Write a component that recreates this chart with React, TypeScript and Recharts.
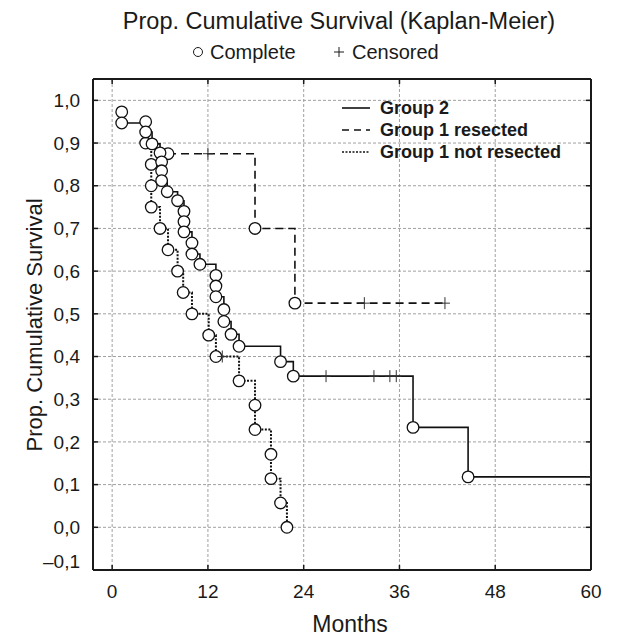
import { LineChart, Line, XAxis, YAxis, CartesianGrid } from 'recharts';

// axis ticks
const xTicks = [0, 12, 24, 36, 48, 60];
const yTicks = [-0.1, 0, 0.1, 0.2, 0.3, 0.4, 0.5, 0.6, 0.7, 0.8, 0.9, 1.0];

// Group 2 (solid)
const g2Months = [1.2, 1.2, 4.2, 5.0, 6.0, 6.2, 6.2, 6.2, 6.9, 8.2, 9.0, 9.0, 9.0, 10.0, 10.0, 11.0, 13.0, 13.0, 13.0, 14.0, 14.0, 14.9, 15.9, 21.1, 22.7, 26.8, 32.8, 34.8, 35.6, 37.7, 44.6, 60];
const g2Survival = [0.973, 0.947, 0.926, 0.898, 0.877, 0.856, 0.835, 0.812, 0.786, 0.765, 0.74, 0.716, 0.692, 0.666, 0.64, 0.616, 0.59, 0.565, 0.54, 0.51, 0.482, 0.452, 0.424, 0.388, 0.354, 0.354, 0.354, 0.354, 0.354, 0.234, 0.118, 0.118];
const g2Censored = [0, 0, 0, 0, 0, 0, 0, 0, 0, 0, 0, 0, 0, 0, 0, 0, 0, 0, 0, 0, 0, 0, 0, 0, 0, 1, 1, 1, 1, 0, 0, 1];

// Group 1 resected (dashed)
const g1rMonths = [7.0, 12.0, 17.9, 22.9, 31.6, 41.7];
const g1rSurvival = [0.875, 0.875, 0.7, 0.525, 0.525, 0.525];
const g1rCensored = [0, 1, 0, 0, 1, 1];

// Group 1 not resected (dotted)
const g1nMonths = [4.2, 4.2, 4.9, 4.9, 4.9, 6.0, 7.0, 8.2, 8.9, 10.0, 12.1, 13.0, 13.8, 15.9, 17.9, 17.9, 19.9, 19.9, 21.1, 21.9];
const g1nSurvival = [0.95, 0.9, 0.85, 0.8, 0.75, 0.7, 0.65, 0.6, 0.55, 0.5, 0.45, 0.4, 0.4, 0.343, 0.286, 0.229, 0.171, 0.114, 0.057, 0];
const g1nCensored = [0, 0, 0, 0, 0, 0, 0, 0, 0, 0, 0, 0, 1, 0, 0, 0, 0, 0, 0, 0];

const legendLabels = ['Group 2', 'Group 1 resected', 'Group 1 not resected'];

const toRows = (m: number[], s: number[], c: number[]) =>
  m.map((t, i) => ({ t, s: s[i], c: c[i] }));

const group2 = toRows(g2Months, g2Survival, g2Censored);
const group1r = toRows(g1rMonths, g1rSurvival, g1rCensored);
const group1n = toRows(g1nMonths, g1nSurvival, g1nCensored);

const FONT = '"Liberation Sans", Arial, Helvetica, sans-serif';
const INK = '#1a1a1a';

const fmt = (v: number) => {
  const s = Math.abs(v).toFixed(1).replace('.', ',');
  return v < 0 ? '\u2013' + s : s;
};

const KmDot = (props: any) => {
  const { cx, cy, payload, index } = props;
  if (cx == null || cy == null) return <g key={index} />;
  if (payload.c) {
    return (
      <g key={index}>
        <line x1={cx - 5} x2={cx + 5} y1={cy} y2={cy} stroke="#333" strokeWidth={1} />
        <line x1={cx} x2={cx} y1={cy - 6} y2={cy + 6} stroke="#333" strokeWidth={1} />
      </g>
    );
  }
  return <circle key={index} cx={cx} cy={cy} r={5.8} fill="#fff" stroke="#111" strokeWidth={1.3} />;
};

const YTick = (props: any) => {
  const { x, y, payload } = props;
  return (
    <text x={x} y={y + (payload.value < 0 ? -9 : 0)} dy="0.355em" textAnchor="end"
      fill={INK} fontSize={19} fontFamily={FONT}>
      {fmt(payload.value)}
    </text>
  );
};

const EmptyTick = () => <g />;

export default function App() {
  const legendStyles = [
    { dash: undefined, w: 1.6 },
    { dash: '7 5', w: 1.6 },
    { dash: '2 1.5', w: 1.4 },
  ];
  return (
    <div style={{ position: 'absolute', left: 0, top: 0, width: 617, height: 638, background: '#fff' }}>
      <LineChart width={617} height={638} margin={{ top: 78, right: 25, bottom: 38, left: 43 }}>
        <CartesianGrid stroke="#a0a0a0" strokeDasharray="3 2" strokeWidth={1} />
        <XAxis dataKey="t" type="number" domain={[-2.4, 60]} ticks={xTicks} allowDataOverflow
          height={30} axisLine={{ stroke: INK, strokeWidth: 2 }} tickLine={{ stroke: INK, strokeWidth: 1.5 }}
          tickSize={-5} tickMargin={20}
          tick={{ fill: INK, fontSize: 19, fontFamily: FONT }} />
        <XAxis xAxisId="top" orientation="top" dataKey="t" type="number" domain={[-2.4, 60]} ticks={xTicks}
          allowDataOverflow height={1} axisLine={{ stroke: INK, strokeWidth: 2 }}
          tickLine={{ stroke: INK, strokeWidth: 1.5 }} tickSize={-5} tick={EmptyTick} />
        <YAxis type="number" domain={[-0.1, 1.05]} ticks={yTicks} allowDataOverflow width={50}
          axisLine={{ stroke: INK, strokeWidth: 2 }} tickLine={{ stroke: INK, strokeWidth: 1.5 }}
          tickSize={-5} tickMargin={18} tick={YTick} />
        <YAxis yAxisId="right" orientation="right" type="number" domain={[-0.1, 1.05]} ticks={yTicks}
          allowDataOverflow width={1} axisLine={{ stroke: INK, strokeWidth: 2 }}
          tickLine={{ stroke: INK, strokeWidth: 1.5 }} tickSize={-5} tick={EmptyTick} />
        <Line data={group1n} dataKey="s" type="stepAfter" stroke="#111" strokeWidth={2}
          strokeDasharray="2 1.5" dot={KmDot} activeDot={false} isAnimationActive={false} />
        <Line data={group1r} dataKey="s" type="stepAfter" stroke="#111" strokeWidth={1.6}
          strokeDasharray="8 5" dot={KmDot} activeDot={false} isAnimationActive={false} />
        <Line data={group2} dataKey="s" type="stepAfter" stroke="#111" strokeWidth={1.6}
          dot={KmDot} activeDot={false} isAnimationActive={false} />
      </LineChart>
      <svg width={617} height={638} style={{ position: 'absolute', left: 0, top: 0, pointerEvents: 'none' }}
        fontFamily={FONT}>
        <text x={339} y={29} textAnchor="middle" fontSize={23.5} fill={INK}>
          Prop. Cumulative Survival (Kaplan-Meier)
        </text>
        <circle cx={198} cy={52} r={4.5} fill="#fff" stroke={INK} strokeWidth={1} />
        <text x={210} y={59} fontSize={20} fill={INK}>Complete</text>
        <line x1={334} x2={344} y1={52} y2={52} stroke={INK} strokeWidth={1} />
        <line x1={339} x2={339} y1={47} y2={57} stroke={INK} strokeWidth={1} />
        <text x={352} y={59} fontSize={20} fill={INK}>Censored</text>
        <text transform="translate(42,325) rotate(-90)" textAnchor="middle" fontSize={22} fill={INK}>
          Prop. Cumulative Survival
        </text>
        <text x={350} y={632} textAnchor="middle" fontSize={23} fill={INK}>Months</text>
        {legendLabels.map((label, i) => (
          <g key={label}>
            <line x1={342} x2={370} y1={108 + i * 22} y2={108 + i * 22} stroke="#111"
              strokeWidth={legendStyles[i].w} strokeDasharray={legendStyles[i].dash} />
            <text x={380} y={114 + i * 22} fontSize={18} fontWeight="bold" fill={INK}>{label}</text>
          </g>
        ))}
      </svg>
    </div>
  );
}
